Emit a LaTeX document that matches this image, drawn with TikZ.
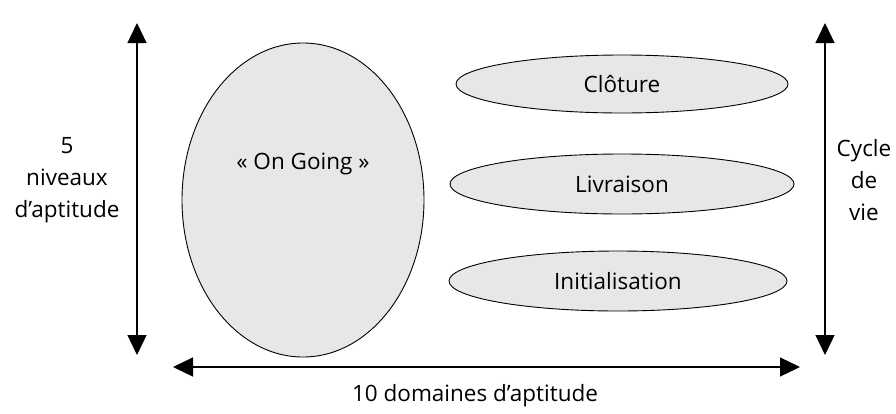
\documentclass[tikz,border=0pt]{standalone}
\usepackage{fontspec}
\setmainfont{Open Sans}
\usetikzlibrary{arrows.meta,shapes.geometric}
\definecolor{phasefill}{HTML}{E6E7E8}
\tikzset{
  phase/.style={ellipse, draw=black, line width=0.9pt, fill=phasefill, inner sep=0pt, font=\fontsize{22.5}{27}\selectfont},
  axis/.style={line width=1.2pt, {Triangle[length=20pt,width=19pt]}-{Triangle[length=20pt,width=19pt]}},
  lbl/.style={align=center, inner sep=0pt, font=\fontsize{22.5}{32}\selectfont}
}
\begin{document}
\begin{tikzpicture}[x=1pt,y=-1pt]
\useasboundingbox (0,0) rectangle (896,413);
\node[phase, minimum width=242pt, minimum height=314pt,
  label={[font=\fontsize{22.5}{27}\selectfont, yshift=36pt]center:« On Going »}] (ongoing) at (303,200) {};
\node[phase, minimum width=332pt, minimum height=58pt] (cloture) at (622,84) {Clôture};
\node[phase, minimum width=344pt, minimum height=60pt] (livraison) at (622,184) {Livraison};
\node[phase, minimum width=338pt, minimum height=60pt] (init) at (618,281) {Initialisation};
\coordinate (ltop) at (137,23);
\coordinate (lbot) at (137,355);
\coordinate (rtop) at (825,23);
\coordinate (rbot) at (825,355);
\coordinate (hl) at (173,367);
\coordinate (hr) at (800,367);
\draw[axis] (lbot) -- (ltop);
\draw[axis] (rbot) -- (rtop);
\draw[axis] (hl) -- (hr);
\node[lbl] (niveaux) at (67,180) {5\\niveaux\\d’aptitude};
\node[lbl] (cycle) at (864,180) {Cycle\\de\\vie};
\node[lbl] (domaines) at (475,396) {10 domaines d’aptitude};
\end{tikzpicture}
\end{document}
